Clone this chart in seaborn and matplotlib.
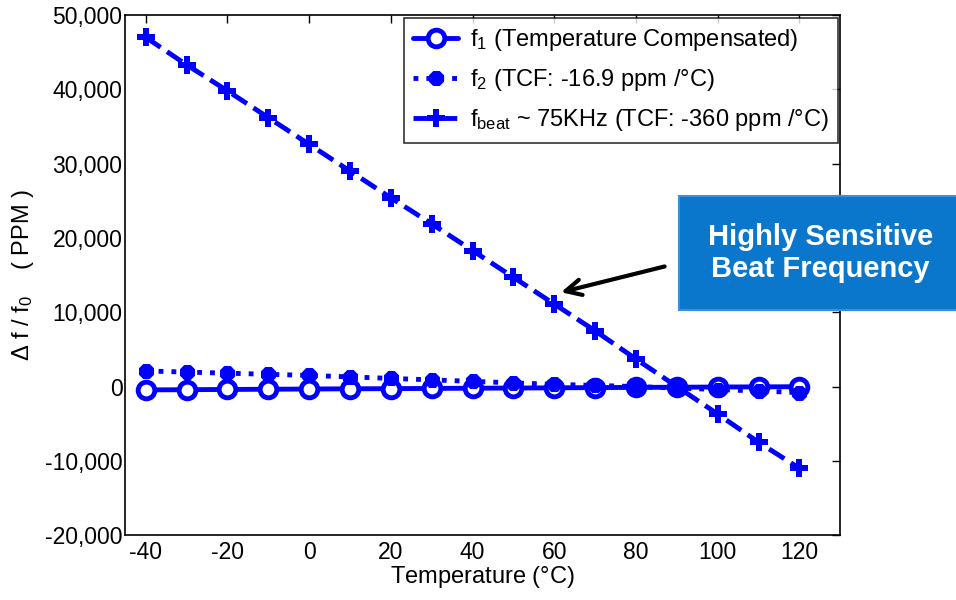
import numpy as np
import pandas as pd
import matplotlib
matplotlib.use('Agg')
import matplotlib.pyplot as plt
import seaborn as sns
from matplotlib.ticker import FuncFormatter
from matplotlib.patches import FancyBboxPatch

# Values
temperature = [-40, -30, -20, -10, 0, 10, 20, 30, 40, 50, 60, 70, 80, 90, 100, 110, 120]
f1_ppm = [-450, -420, -390, -360, -330, -300, -280, -250, -220, -200, -170, -140, -110, -90, -60, -40, -20]
f2_ppm = [2100, 1950, 1800, 1650, 1500, 1300, 1100, 900, 700, 500, 300, 150, 0, -200, -400, -600, -800]
fbeat_ppm = [47000, 43300, 39800, 36200, 32600, 29000, 25400, 21900, 18300, 14700, 11100, 7500, 3700, 0, -3700, -7500, -11000]

labels = [r'f$_1$ (Temperature Compensated)',
          r'f$_2$ (TCF: -16.9 ppm /$\degree$C)',
          r'f$_{beat}$ ~ 75KHz (TCF: -360 ppm /$\degree$C)']

sns.set_style('white', {'text.color': 'black', 'axes.labelcolor': 'black',
                        'xtick.color': 'black', 'ytick.color': 'black'})
font = 'Liberation Sans'
plt.rcParams['font.family'] = [font, 'DejaVu Sans']
plt.rcParams['mathtext.fontset'] = 'custom'
plt.rcParams['mathtext.rm'] = font
plt.rcParams['mathtext.it'] = font
plt.rcParams['mathtext.default'] = 'regular'
plt.rcParams['axes.unicode_minus'] = False

fig = plt.figure(figsize=(9.56, 6.0), dpi=100)
ax = fig.add_axes([0.131, 0.108, 0.748, 0.867])

blue = '#0000FF'
sns.lineplot(x=temperature, y=f1_ppm, ax=ax, color=blue, linewidth=3.5, linestyle='-',
             marker='o', markersize=12, markerfacecolor='white', markeredgecolor=blue,
             markeredgewidth=3.5, label=labels[0])
sns.lineplot(x=temperature, y=f2_ppm, ax=ax, color=blue, linewidth=3.5, linestyle=':',
             marker='8', markersize=11, markerfacecolor=blue, markeredgecolor=blue,
             label=labels[1])
sns.lineplot(x=temperature, y=fbeat_ppm, ax=ax, color=blue, linewidth=3.5, linestyle='--',
             dashes=(3, 1.8), marker='P', markersize=13, markerfacecolor=blue, markeredgecolor=blue,
             markeredgewidth=0, label=labels[2])

ax.set_xlim(-45, 130)
ax.set_ylim(-20000, 50000)
ax.set_xticks(np.arange(-40, 121, 20))
ax.set_yticks(np.arange(-20000, 50001, 10000))
ax.yaxis.set_major_formatter(FuncFormatter(lambda v, p: f'{int(v):,}'))
ax.tick_params(direction='in', top=True, right=True, length=6, width=1,
               labelsize=16.5, colors='black', pad=2)
ax.tick_params(axis='x', pad=4)
for s in ax.spines.values():
    s.set_color('black')
    s.set_linewidth(1.2)

ax.set_xlabel(r'Temperature ($\degree$C)', fontsize=17, labelpad=0, color='black')
ax.set_ylabel(r'$\Delta$ f / f$_0$    ( PPM )', fontsize=17, labelpad=6, color='black')

leg = ax.legend(loc='upper right', fontsize=17, frameon=True, fancybox=False,
                edgecolor='black', handlelength=1.9, handletextpad=0.5,
                borderpad=0.4, labelspacing=0.6, borderaxespad=0,
                bbox_to_anchor=(0.997, 0.995))
leg.get_frame().set_linewidth(1.2)
for t in leg.get_texts():
    t.set_color('black')

# callout box
box = FancyBboxPatch((0.71, 0.483), 0.30, 0.19, boxstyle='square,pad=0',
                     transform=fig.transFigure, facecolor='#0A77CC',
                     edgecolor='#3A8FD8', linewidth=1.5, clip_on=False, zorder=5)
fig.patches.append(box)
fig.text(0.858, 0.578, 'Highly Sensitive\nBeat Frequency', ha='center', va='center',
         color='white', fontsize=21, fontweight='bold', linespacing=1.2, zorder=6)
ax.annotate('', xy=(61, 12600), xytext=(0.698, 0.557), textcoords='figure fraction',
            xycoords='data',
            arrowprops=dict(arrowstyle='->', color='black', lw=3, mutation_scale=28))

fig.savefig('out.png', dpi=100)
